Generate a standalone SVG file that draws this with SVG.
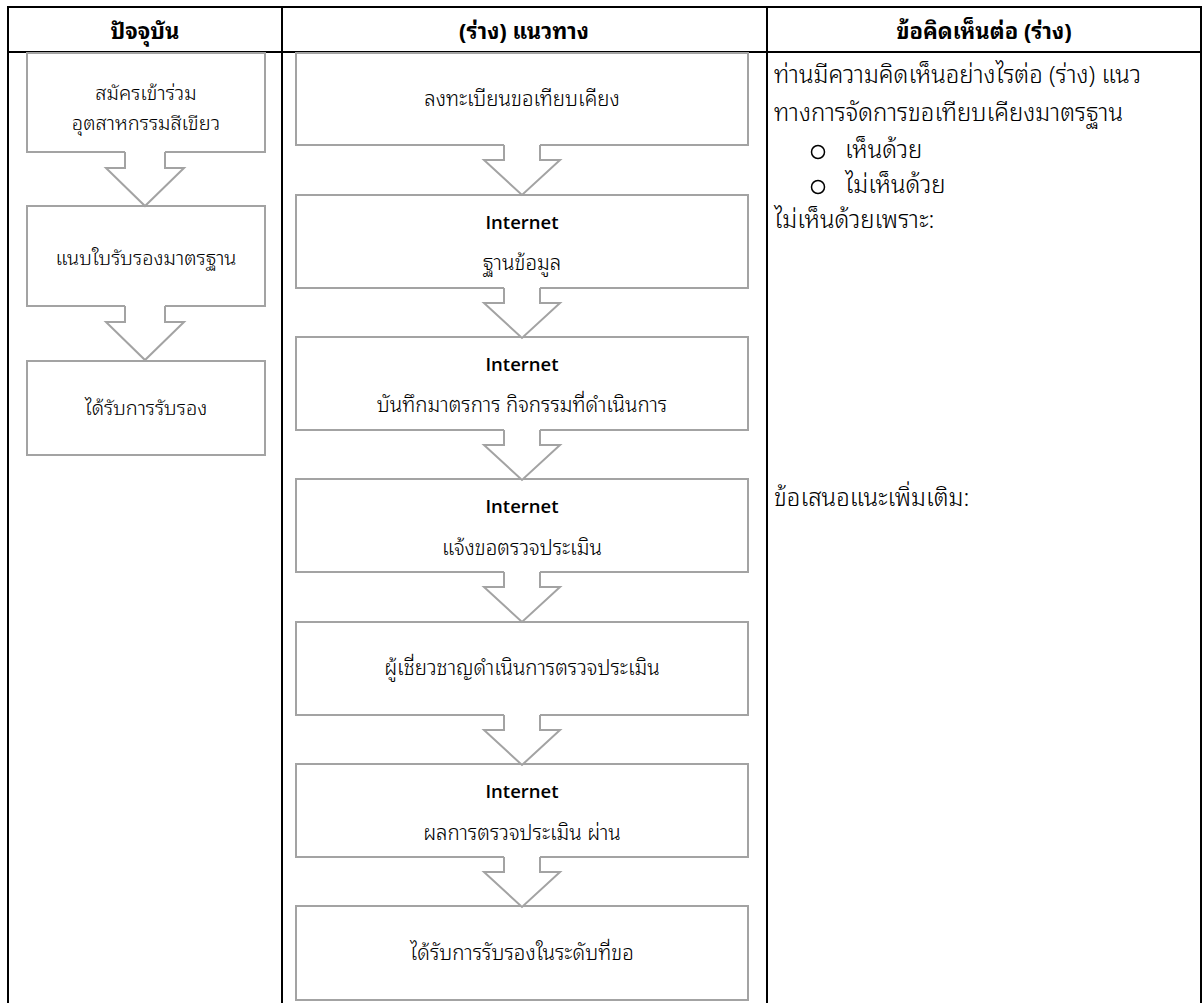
<svg xmlns="http://www.w3.org/2000/svg" xmlns:xlink="http://www.w3.org/1999/xlink" width="1202" height="1003" viewBox="0 0 1202 1003">
<style>
.tbl{stroke:#000;stroke-width:2;fill:none}
.box{fill:#fff;stroke:#a3a3a3;stroke-width:2}
.af{fill:#fff;stroke:none}
.as{fill:none;stroke:#a3a3a3;stroke-width:2;stroke-linejoin:miter}
.th{font-family:"Noto Sans Thai Looped","Noto Sans Thai","Noto Sans","Liberation Sans",sans-serif;fill:#000}
.hd{font-weight:bold;font-size:22px;text-anchor:middle}
.t{font-weight:300;font-size:20.5px;text-anchor:middle}
.lt{font-weight:300;font-size:20px;text-anchor:middle}
.inet{font-family:"Open Sans","Noto Sans",sans-serif;font-weight:600;font-size:18.5px;fill:#000;text-anchor:middle}
.rt{font-weight:300;font-size:24px}
.bul{fill:none;stroke:#000;stroke-width:1.5}
</style>
<defs>
<g id="arrM">
<path class="af" d="M504,-2 V15 H484 L522,50 L560,15 H540 V-2 Z"/>
<path class="as" d="M504,0 V15 H484 L522,50 L560,15 H540 V0"/>
</g>
<g id="arrL">
<path class="af" d="M125,-2 V16 H106 L145,54 L184,16 H165 V-2 Z"/>
<path class="as" d="M125,0 V16 H106 L145,54 L184,16 H165 V0"/>
</g>
</defs>
<rect width="1202" height="1003" fill="#fff"/>

<g id="table">
<path class="tbl" d="M8,1010 V7 H1201 V1010 M8,52 H1201 M282,7 V1010 M767,7 V1010"/>
<text class="th hd" x="145" y="39">ปัจจุบัน</text>
<text class="th hd" x="524" y="39">(ร่าง) แนวทาง</text>
<text class="th hd" x="984" y="39">ข้อคิดเห็นต่อ (ร่าง)</text>
</g>

<g id="L1"><rect class="box" x="27" y="53" width="238" height="99"/>
<text class="th lt" x="146" y="100">สมัครเข้าร่วม</text>
<text class="th lt" x="146" y="130">อุตสาหกรรมสีเขียว</text></g>
<g id="L2"><rect class="box" x="27" y="206" width="238" height="100"/>
<text class="th lt" x="146" y="265">แนบใบรับรองมาตรฐาน</text></g>
<g id="L3"><rect class="box" x="27" y="361" width="238" height="94"/>
<text class="th lt" x="146" y="415">ได้รับการรับรอง</text></g>

<g id="M1"><rect class="box" x="296" y="53" width="452" height="92"/>
<text class="th t" x="522" y="106">ลงทะเบียนขอเทียบเคียง</text></g>
<g id="M2"><rect class="box" x="296" y="195" width="452" height="93"/>
<text class="inet" x="522" y="229">Internet</text>
<text class="th t" x="522" y="270">ฐานข้อมูล</text></g>
<g id="M3"><rect class="box" x="296" y="337" width="452" height="93"/>
<text class="inet" x="522" y="371">Internet</text>
<text class="th t" x="522" y="412">บันทึกมาตรการ กิจกรรมที่ดำเนินการ</text></g>
<g id="M4"><rect class="box" x="296" y="479" width="452" height="93"/>
<text class="inet" x="522" y="513">Internet</text>
<text class="th t" x="522" y="555">แจ้งขอตรวจประเมิน</text></g>
<g id="M5"><rect class="box" x="296" y="622" width="452" height="93"/>
<text class="th t" x="522" y="675">ผู้เชี่ยวชาญดำเนินการตรวจประเมิน</text></g>
<g id="M6"><rect class="box" x="296" y="764" width="452" height="93"/>
<text class="inet" x="522" y="798">Internet</text>
<text class="th t" x="522" y="840">ผลการตรวจประเมิน ผ่าน</text></g>
<g id="M7"><rect class="box" x="296" y="906" width="452" height="94"/>
<text class="th t" x="522" y="960">ได้รับการรับรองในระดับที่ขอ</text></g>

<g id="connectors">
<use xlink:href="#arrL" transform="translate(0,152)"/>
<use xlink:href="#arrL" transform="translate(0,306)"/>
<use xlink:href="#arrM" transform="translate(0,145)"/>
<use xlink:href="#arrM" transform="translate(0,288)"/>
<use xlink:href="#arrM" transform="translate(0,430)"/>
<use xlink:href="#arrM" transform="translate(0,572)"/>
<use xlink:href="#arrM" transform="translate(0,715)"/>
<use xlink:href="#arrM" transform="translate(0,857)"/>
</g>

<g id="comments">
<text class="th rt" x="774" y="83">ท่านมีความคิดเห็นอย่างไรต่อ (ร่าง) แนว</text>
<text class="th rt" x="774" y="121">ทางการจัดการขอเทียบเคียงมาตรฐาน</text>
<circle class="bul" cx="818" cy="152" r="6.5"/>
<text class="th rt" x="845" y="158">เห็นด้วย</text>
<circle class="bul" cx="818" cy="187" r="6.5"/>
<text class="th rt" x="845" y="193">ไม่เห็นด้วย</text>
<text class="th rt" x="774" y="228">ไม่เห็นด้วยเพราะ:</text>
<text class="th rt" x="774" y="506">ข้อเสนอแนะเพิ่มเติม:</text>
</g>
</svg>
